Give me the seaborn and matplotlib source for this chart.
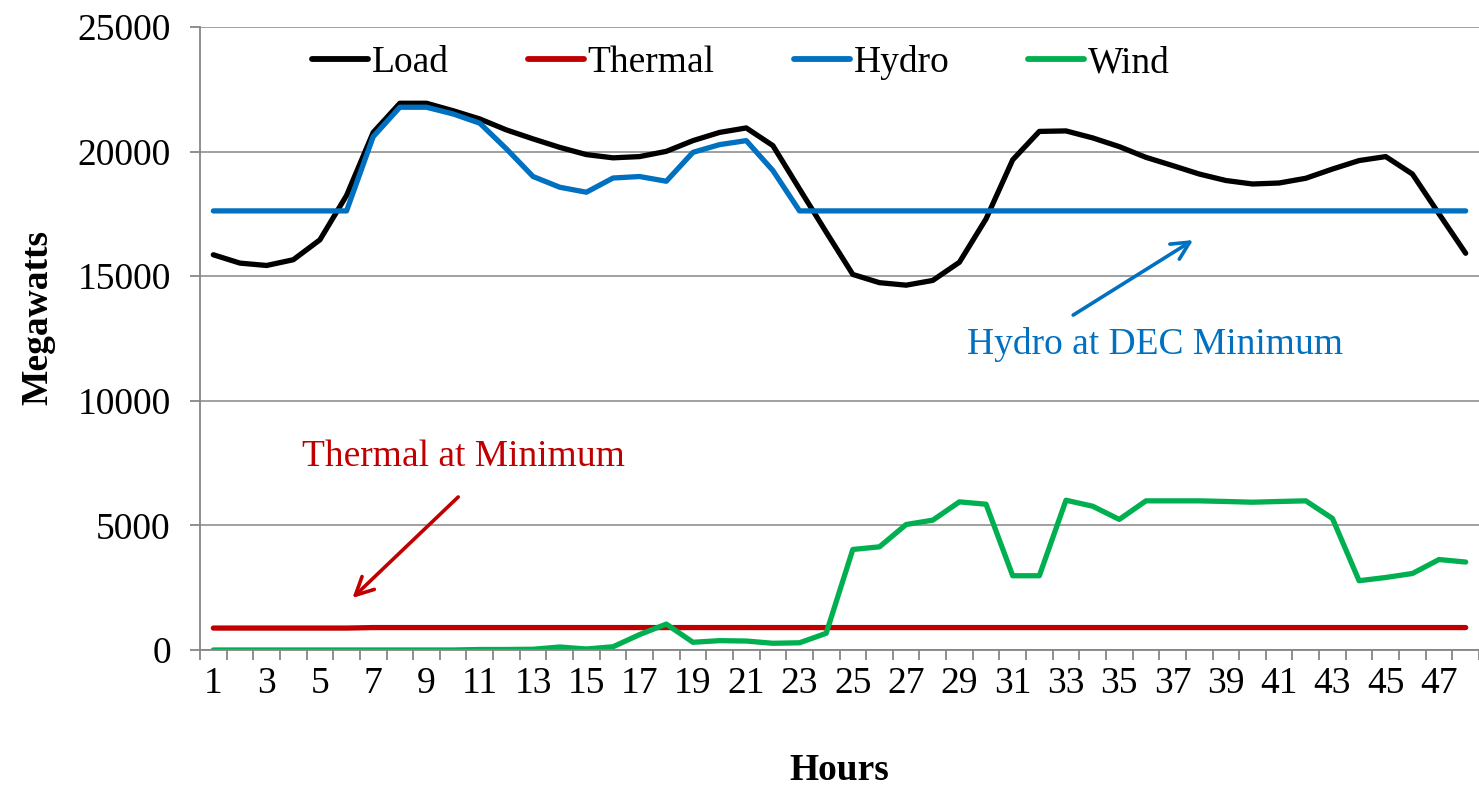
import numpy as np
import pandas as pd
import matplotlib
matplotlib.use("Agg")
import matplotlib.pyplot as plt
import seaborn as sns

hours = list(range(1, 49))
load = [15860, 15525, 15430, 15660, 16460, 18240, 20770, 21940, 21940, 21640,
        21310, 20870, 20510, 20170, 19880, 19750, 19800, 20010, 20440, 20770,
        20950, 20240, 18500, 16770, 15070, 14740, 14640, 14830, 15560, 17300,
        19670, 20810, 20830, 20550, 20200, 19770, 19440, 19100, 18840, 18700,
        18740, 18930, 19300, 19640, 19800, 19100, 17500, 15920]
thermal = [880, 880, 880, 880, 880, 880, 900, 900, 900, 900,
           900, 900, 900, 900, 900, 900, 900, 900, 900, 900,
           900, 900, 900, 900, 900, 900, 900, 900, 900, 900,
           900, 900, 900, 900, 900, 900, 900, 900, 900, 900,
           900, 900, 900, 900, 900, 900, 900, 900]
hydro = [17620, 17620, 17620, 17620, 17620, 17620, 20600, 21780, 21780, 21510,
         21140, 20110, 19000, 18570, 18370, 18940, 19000, 18810, 19970, 20280,
         20440, 19240, 17620, 17620, 17620, 17620, 17620, 17620, 17620, 17620,
         17620, 17620, 17620, 17620, 17620, 17620, 17620, 17620, 17620, 17620,
         17620, 17620, 17620, 17620, 17620, 17620, 17620, 17620]
wind = [0, 0, 0, 0, 0, 0, 0, 0, 0, 0,
        20, 20, 30, 120, 40, 130, 620, 1040, 310, 375,
        360, 270, 290, 670, 4035, 4140, 5035, 5210, 5945, 5850,
        2980, 2980, 6010, 5770, 5240, 5985, 5985, 5985, 5960, 5930,
        5960, 5985, 5280, 2780, 2910, 3070, 3630, 3530]
series_names = ["Load", "Thermal", "Hydro", "Wind"]
series_colors = ["#000000", "#C00000", "#0070C0", "#00B050"]
xtick_labels = [str(h) for h in range(1, 49, 2)]

df = pd.DataFrame({
    "Hours": hours * 4,
    "Megawatts": load + thermal + hydro + wind,
    "Series": sum([[n] * 48 for n in series_names], []),
})

sns.set_style("white")
plt.rcParams["font.family"] = ["Liberation Serif", "DejaVu Serif"]
plt.rcParams["text.color"] = "black"
plt.rcParams["axes.labelcolor"] = "black"

fig = plt.figure(figsize=(14.79, 7.94), dpi=100)
ax = fig.add_axes([200 / 1479, (794 - 650) / 794, 1279 / 1479, 623 / 794])

sns.lineplot(data=df, x="Hours", y="Megawatts", hue="Series",
             hue_order=series_names, palette=series_colors,
             linewidth=3.8, ax=ax, legend=True, solid_capstyle="round")

ax.set_xlim(0.5, 48.5)
ax.set_ylim(0, 25000)
ax.set_yticks(np.arange(0, 25001, 5000))
ax.set_yticklabels([str(v) for v in range(0, 25001, 5000)], fontsize=27)
ax.set_xticks(list(range(1, 49, 2)))
ax.set_xticklabels(xtick_labels, fontsize=27)
ax.set_xticks(np.arange(0.5, 48.6, 1), minor=True)
ax.tick_params(axis="x", which="major", length=0, pad=12, labelcolor="black")
ax.tick_params(axis="x", which="minor", length=7, width=1.3, color="#868686",
               direction="out", bottom=True)
ax.tick_params(axis="y", which="major", length=7, width=1.3, color="#868686",
               direction="out", left=True, pad=14, labelcolor="black")

ax.grid(axis="y", color="#A0A0A0", linewidth=1.4)
ax.grid(axis="x", visible=False)
for s in ["top", "right"]:
    ax.spines[s].set_visible(False)
for s in ["left", "bottom"]:
    ax.spines[s].set_color("#868686")
    ax.spines[s].set_linewidth(1.3)

ax.set_xlabel("Hours", fontsize=27, fontweight="bold", color="black")
ax.set_ylabel("Megawatts", fontsize=27, fontweight="bold", color="black")
ax.xaxis.set_label_coords(0.5, -0.165)
ax.yaxis.set_label_coords(-0.113, 0.533)

handles, labels = ax.get_legend_handles_labels()
for h in handles:
    h.set_linewidth(4.2)
    h.set_solid_capstyle("round")
leg = ax.legend(handles, labels, loc="center",
                bbox_to_anchor=(741 / 1479, 1 - 63 / 794),
                bbox_transform=fig.transFigure, ncol=4, frameon=False,
                fontsize=27, handlelength=1.5, handletextpad=0.1,
                columnspacing=2.1)
for t in leg.get_texts():
    t.set_color("black")

ax.text(36.35, 12240, "Hydro at DEC Minimum", color="#0070C0", fontsize=27,
        ha="center", va="center")
ax.annotate("", xy=(37.77, 16450), xytext=(33.27, 13440),
            arrowprops=dict(arrowstyle="->", color="#0070C0", lw=2.6,
                            mutation_scale=32, shrinkA=0, shrinkB=0))
ax.text(10.38, 7740, "Thermal at Minimum", color="#C00000", fontsize=27,
        ha="center", va="center")
ax.annotate("", xy=(6.22, 2085), xytext=(10.19, 6140),
            arrowprops=dict(arrowstyle="->", color="#C00000", lw=2.6,
                            mutation_scale=32, shrinkA=0, shrinkB=0))

fig.savefig("out.png", dpi=100)
